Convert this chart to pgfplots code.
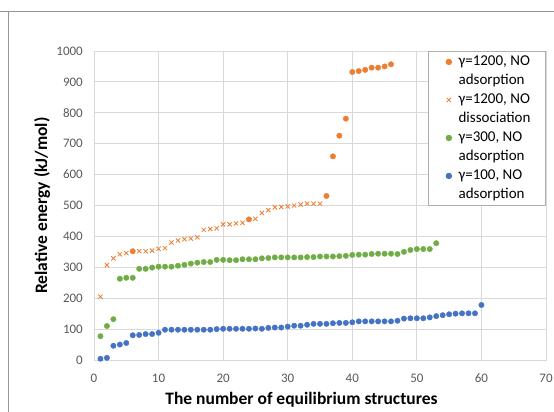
\documentclass[border=0pt]{standalone}
\usepackage{fontspec}
\setmainfont{Carlito}
\usepackage{pgfplots}
\pgfplotsset{compat=1.18}
\definecolor{xorange}{HTML}{ED7D31}
\definecolor{xgreen}{HTML}{70AD47}
\definecolor{xblue}{HTML}{4472C4}
\definecolor{xgrid}{HTML}{D9D9D9}
\definecolor{xtick}{HTML}{595959}
\definecolor{xframe}{RGB}{150,150,150}
\begin{document}
\begin{tikzpicture}
\useasboundingbox (-94bp,-52bp) rectangle (460bp,360bp);
\draw[xframe, line width=1bp] (-94bp,348.5bp) -- (460bp,348.5bp);
\draw[xframe, line width=1bp] (-85.5bp,348.5bp) -- (-85.5bp,-52bp);
\begin{axis}[
  scale only axis,
  width=452bp, height=309bp,
  xmin=0, xmax=70, ymin=0, ymax=1000,
  xtick={0,10,...,70}, ytick={0,100,...,1000},
  grid=major,
  grid style={xgrid, line width=0.9bp},
  axis line style={xgrid, line width=0.9bp},
  major tick length=0pt,
  /pgf/number format/assume math mode=true,
  /pgf/number format/1000 sep={},
  ticklabel style={font=\fontsize{13bp}{15bp}\selectfont, text=xtick},
  xticklabel style={inner sep=0pt, anchor=north, yshift=-14bp},
  yticklabel style={inner sep=0pt, anchor=east, xshift=-11bp},
  xlabel={The number of equilibrium structures},
  ylabel={Relative energy (kJ/mol)},
  label style={font=\bfseries\fontsize{17.5bp}{20bp}\selectfont},
  xlabel style={at={(axis description cs:0.459,-0.128)}, anchor=center},
  ylabel style={at={(axis description cs:-0.115,0.5)}, anchor=center},
  legend cell align=left,
  legend image code/.code={\path (-2.5bp,0bp) (11.8bp,0bp); \draw[#1] plot coordinates {(2.5bp,0bp)};},
  legend style={at={(axis cs:70,1000)}, anchor=north east,
    draw=xgrid!80!black, line width=0.9bp, fill=white,
    font=\fontsize{15bp}{18bp}\selectfont,
    inner xsep=15bp, inner ysep=1bp, row sep=0pt, column sep=0pt,
    nodes={inner xsep=0pt, inner ysep=2.25bp, text height=11bp, text depth=3.5bp}},
]
% gamma=1200, NO adsorption
\addplot[only marks, mark=*, mark size=2.7bp, draw=xorange, fill=xorange] coordinates {
(6,352) (24,455) (36,531) (37,659) (38,726) (39,781) (40,932) (41,935) (42,939) (43,946) (44,946) (45,950) (46,957)
};
\addlegendentry{γ=1200, NO}
\addlegendimage{empty legend}
\addlegendentry{adsorption}
% gamma=1200, NO dissociation
\addplot[only marks, mark=x, mark size=3bp, draw=xorange, line width=0.8bp] coordinates {
(1,205) (2,307) (3,329) (4,342) (5,346) (7,352) (8,352) (9,354) (10,360) (11,362) (12,380) (13,387) (14,391) (15,393) (16,397) (17,421) (18,424) (19,426) (20,439) (21,439) (22,442) (23,444) (25,457) (26,476) (27,485) (28,494) (29,495) (30,497) (31,500) (32,503) (33,506) (34,506) (35,506)
};
\addlegendentry{γ=1200, NO}
\addlegendimage{empty legend}
\addlegendentry{dissociation}
% gamma=300, NO adsorption
\addplot[only marks, mark=*, mark size=2.7bp, draw=xgreen, fill=xgreen] coordinates {
(1,77) (2,110) (3,132) (4,263) (5,266) (6,266) (7,295) (8,295) (9,299) (10,302) (11,302) (12,302) (13,305) (14,308) (15,312) (16,315) (17,317) (18,317) (19,324) (20,324) (21,323) (22,323) (23,326) (24,326) (25,326) (26,329) (27,330) (28,332) (29,332) (30,332) (31,332) (32,332) (33,333) (34,333) (35,335) (36,335) (37,335) (38,336) (39,337) (40,340) (41,341) (42,341) (43,343) (44,344) (45,344) (46,344) (47,343) (48,350) (49,356) (50,359) (51,359) (52,359) (53,378)
};
\addlegendentry{γ=300, NO}
\addlegendimage{empty legend}
\addlegendentry{adsorption}
% gamma=100, NO adsorption
\addplot[only marks, mark=*, mark size=2.7bp, draw=xblue, fill=xblue] coordinates {
(1,4) (2,7) (3,46) (4,50) (5,55) (6,80) (7,81) (8,84) (9,84) (10,88) (11,98) (12,98) (13,98) (14,98) (15,98) (16,98) (17,98) (18,98) (19,100) (20,101) (21,101) (22,101) (23,101) (24,101) (25,102) (26,101) (27,104) (28,105) (29,105) (30,108) (31,111) (32,111) (33,114) (34,117) (35,117) (36,117) (37,119) (38,120) (39,120) (40,122) (41,125) (42,125) (43,125) (44,125) (45,125) (46,125) (47,127) (48,134) (49,135) (50,135) (51,135) (52,138) (53,142) (54,145) (55,148) (56,150) (57,151) (58,151) (59,151) (60,178)
};
\addlegendentry{γ=100, NO}
\addlegendimage{empty legend}
\addlegendentry{adsorption}
\end{axis}
\end{tikzpicture}
\end{document}
